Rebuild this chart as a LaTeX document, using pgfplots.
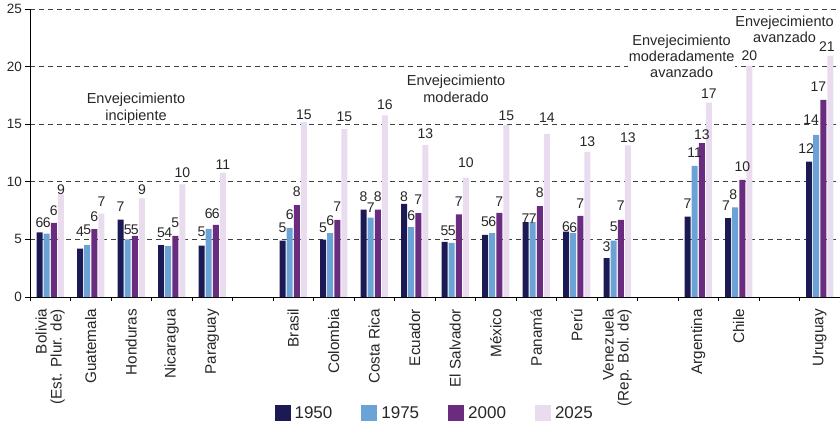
\documentclass[border=0pt]{standalone}
\usepackage{fontspec}
\setmainfont{Liberation Sans}
\usepackage{pgfplots}
\usepackage{pgfplotstable}
\pgfplotsset{compat=1.18}
\definecolor{cA}{HTML}{1C1A55}
\definecolor{cB}{HTML}{6CA3D6}
\definecolor{cC}{HTML}{6A2C7E}
\definecolor{cD}{HTML}{E8DCEE}
\definecolor{txt}{HTML}{262626}

% x = category slot, y = value, l = label, g = label gap (pt), dx = label shift (pt)
\pgfplotstableread{
x y l g dx
0 5.62 6 4.4 0
1 4.2 4 12.3 0
2 6.72 7 8.3 0
3 4.5 5 7.4 0
4 4.47 5 8.7 0
6 4.9 5 7.7 0
7 4.97 5 7.3 0
8 7.59 8 7.3 0
9 8.08 8 1.6 0
10 4.79 5 6.3 0
11 5.39 5 8 0
12 6.49 7 -1.3 0
13 5.67 6 0 0
14 3.38 3 6.6 0
16 6.97 7 7.7 0
17 6.85 7 7.6 -2
19 11.76 12 8 -3
}\tA
\pgfplotstableread{
x y l g dx
0 5.5 6 5.7 0
1 4.5 5 10 0
2 5.01 5 4.7 0
3 4.41 4 8.4 0
4 5.91 6 10 0
6 6.0 6 8.3 0
7 5.55 6 7.3 0
8 6.9 7 4.7 0
9 6.07 6 6 0
10 4.7 5 7.3 0
11 5.55 6 6 0
12 6.49 7 -1.3 0
13 5.55 6 0 0
14 4.9 5 8.3 0
16 11.39 11 7.7 0
17 7.77 8 7.7 -2
19 14.08 14 10 -5
}\tB
\pgfplotstableread{
x y l g dx
0 6.43 6 6.6 0
1 5.9 6 7.6 0
2 5.3 5 1.3 0
3 5.3 5 8 0
4 6.25 6 6 0
6 7.98 8 8 0
7 6.7 7 8 0
8 7.59 8 7.3 0
9 7.27 7 8.7 0
10 7.18 7 7.4 0
11 7.3 7 6.6 0
12 7.88 8 8 0
13 7.05 7 6.7 0
14 6.7 7 9.3 0
16 13.36 13 3.3 0
17 10.17 10 8.3 0
19 17.11 17 8 -5
}\tC
\pgfplotstableread{
x y l g dx
0 8.9 9 0 0
1 7.24 7 6.7 0
2 8.57 9 3.7 0
3 9.78 10 6.4 0
4 10.8 11 3 0
6 15.19 15 2.3 0
7 14.57 15 7.6 0
8 15.77 16 5.7 0
9 13.2 13 6 0
10 10.37 10 9.7 0
11 14.95 15 4.3 0
12 14.17 14 11.3 0
13 12.58 13 5.6 0
14 13.16 13 2.4 0
16 16.87 17 4 0
17 20.06 20 5 0
19 20.95 21 4 -3.5
}\tD

\begin{document}
\begin{tikzpicture}[x=1pt,y=1pt]
\path[use as bounding box] (-30,-130) rectangle (810,297);
\begin{axis}[
  at={(0,0)}, anchor=south west,
  scale only axis, width=810pt, height=288pt,
  xmin=-0.5, xmax=19.5, ymin=0, ymax=25,
  axis x line*=bottom, axis y line*=left,
  axis line style={-, black, line width=0.9pt},
  ybar=1.1pt, bar width=6pt,
  ytick={0,5,...,25},
  ymajorgrids,
  grid style={black!75, dash pattern=on 5pt off 4pt, line width=0.8pt},
  xtick={-0.5,0.5,...,19.5},
  x tick label as interval,
  xticklabels={{Bolivia\\(Est. Plur. de)},Guatemala,Honduras,Nicaragua,Paraguay,{},Brasil,Colombia,Costa Rica,Ecuador,El Salvador,México,Panamá,Perú,{Venezuela\\(Rep. Bol. de)},{},Argentina,Chile,{},Uruguay},
  tick align=outside,
  major tick length=4.5pt,
  tick style={black, line width=0.8pt},
  /pgf/number format/assume math mode=true,
  yticklabel style={font=\fontsize{13.5}{14}\selectfont, text=txt},
  xticklabel style={yshift=-4pt, rotate=90, anchor=east, align=right, font=\fontsize{15.3}{15}\selectfont, text=txt},
  nodes near coords,
  point meta=explicit symbolic,
  visualization depends on={\thisrow{g} \as \lgap},
  visualization depends on={\thisrow{dx} \as \ldx},
  every node near coord/.append style={font=\fontsize{14}{14}\selectfont, text=txt, inner sep=0pt, anchor=south, yshift=\lgap pt, xshift=\ldx pt},
  legend columns=4,
  legend style={at={(0.4984,-0.403)}, anchor=center, draw=none, fill=none,
    font=\fontsize{17}{17}\selectfont, text=txt,
    nodes={inner xsep=0pt, inner ysep=1pt},
    /tikz/every odd column/.append style={column sep=4pt},
    /tikz/every even column/.append style={column sep=29pt}},
  legend image code/.code={\fill[#1] (0pt,-8pt) rectangle (16pt,8pt);},
]
\addplot[fill=cA, draw=none] table[x=x, y=y, meta=l] {\tA};
\addplot[fill=cB, draw=none] table[x=x, y=y, meta=l] {\tB};
\addplot[fill=cC, draw=none] table[x=x, y=y, meta=l] {\tC};
\addplot[fill=cD, draw=none] table[x=x, y=y, meta=l] {\tD};
\legend{1950,1975,2000,2025}
\node[align=center, font=\fontsize{14.5}{16.5}\selectfont, text=txt] at (axis cs:2.117,16.37) {Envejecimiento\\incipiente};
\node[align=center, font=\fontsize{14.5}{16.5}\selectfont, text=txt] at (axis cs:10.02,18.07) {Envejecimiento\\moderado};
\node[align=center, font=\fontsize{14.5}{16}\selectfont, text=txt, fill=white, inner sep=1pt] at (axis cs:15.59,20.87) {Envejecimiento\\moderadamente\\avanzado};
\node[align=center, font=\fontsize{14.5}{15.5}\selectfont, text=txt] at (axis cs:18.13,23.25) {Envejecimiento\\avanzado};
\end{axis}
\end{tikzpicture}
\end{document}
